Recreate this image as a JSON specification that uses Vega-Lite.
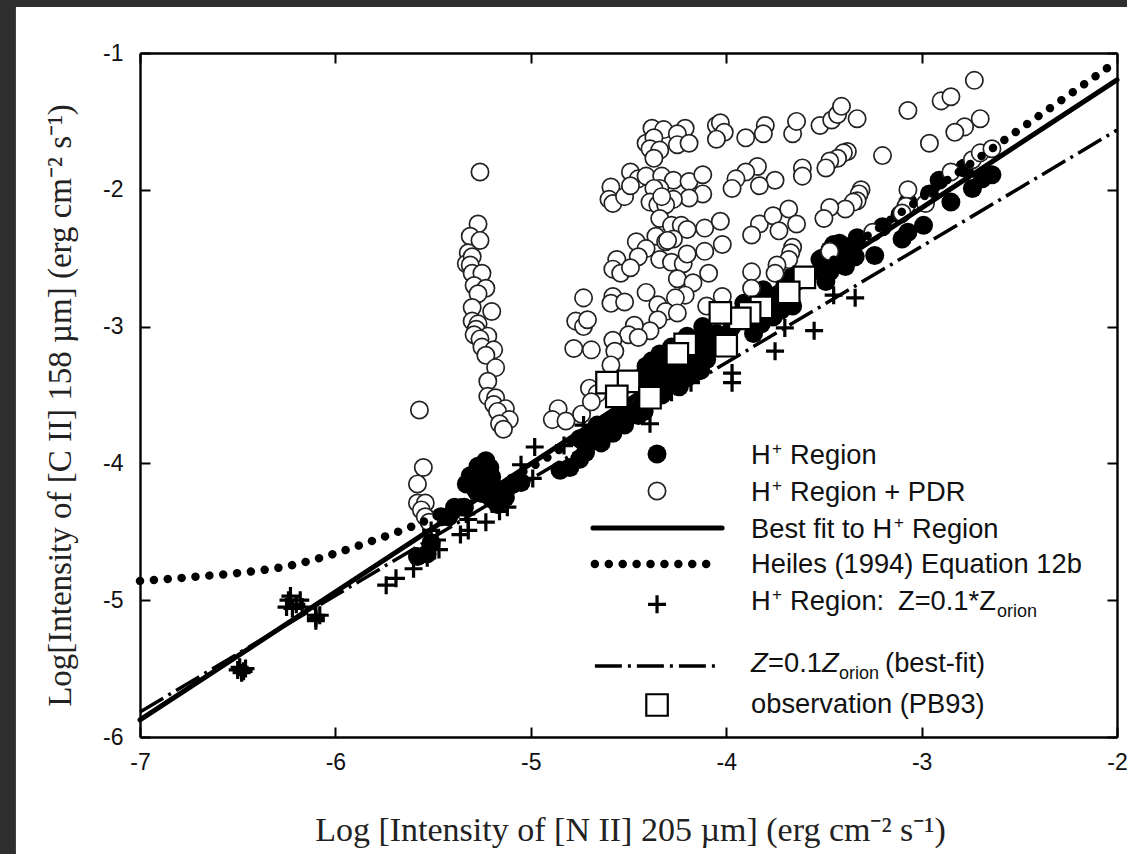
{"$schema":"https://vega.github.io/schema/vega-lite/v6.json","width":977,"height":684,"autosize":{"type":"none"},"padding":{"left":140,"top":53,"right":10,"bottom":117},"background":"#2f2f2f","config":{"view":{"stroke":null}},
"datasets":{
"panel":[{"x0":-7.635,"x1":-1.9,"y0":-0.664,"y1":-6.9}],
"filled":[{"x":-5.23,"y":-3.98},{"x":-5.27,"y":-4.02},{"x":-5.21,"y":-4.03},{"x":-5.31,"y":-4.09},{"x":-5.33,"y":-4.15},{"x":-5.29,"y":-4.12},{"x":-5.25,"y":-4.1},{"x":-5.2,"y":-4.1},{"x":-5.28,"y":-4.2},{"x":-5.25,"y":-4.22},{"x":-5.22,"y":-4.17},{"x":-5.18,"y":-4.2},{"x":-5.2,"y":-4.26},{"x":-5.15,"y":-4.22},{"x":-5.12,"y":-4.18},{"x":-5.17,"y":-4.3},{"x":-5.13,"y":-4.25},{"x":-5.09,"y":-4.15},{"x":-5.05,"y":-4.14},{"x":-5.58,"y":-4.68},{"x":-5.53,"y":-4.66},{"x":-5.51,"y":-4.58},{"x":-5.46,"y":-4.39},{"x":-5.42,"y":-4.39},{"x":-5.39,"y":-4.32},{"x":-5.34,"y":-4.32},{"x":-5.52,"y":-4.41},{"x":-4.85,"y":-4.05},{"x":-4.8,"y":-4.03},{"x":-4.75,"y":-3.97},{"x":-4.72,"y":-3.92},{"x":-4.7,"y":-3.85},{"x":-4.75,"y":-3.82},{"x":-4.68,"y":-3.8},{"x":-4.63,"y":-3.75},{"x":-4.66,"y":-3.72},{"x":-4.6,"y":-3.7},{"x":-4.57,"y":-3.68},{"x":-4.53,"y":-3.65},{"x":-4.5,"y":-3.6},{"x":-4.47,"y":-3.62},{"x":-4.44,"y":-3.58},{"x":-4.41,"y":-3.5},{"x":-4.38,"y":-3.45},{"x":-4.35,"y":-3.38},{"x":-4.4,"y":-3.42},{"x":-4.37,"y":-3.3},{"x":-4.32,"y":-3.3},{"x":-4.3,"y":-3.42},{"x":-4.27,"y":-3.4},{"x":-4.33,"y":-3.5},{"x":-4.25,"y":-3.3},{"x":-4.22,"y":-3.32},{"x":-4.41,"y":-3.29},{"x":-4.34,"y":-3.2},{"x":-4.2,"y":-3.07},{"x":-4.12,"y":-3},{"x":-4.1,"y":-3.24},{"x":-4.13,"y":-3.32},{"x":-4.24,"y":-3.44},{"x":-4.34,"y":-3.49},{"x":-4.17,"y":-3.15},{"x":-4.05,"y":-3.05},{"x":-3.91,"y":-2.83},{"x":-3.81,"y":-2.73},{"x":-3.86,"y":-3.05},{"x":-3.76,"y":-2.93},{"x":-3.66,"y":-2.85},{"x":-3.66,"y":-2.63},{"x":-3.73,"y":-2.76},{"x":-3.83,"y":-2.88},{"x":-3.88,"y":-2.95},{"x":-3.49,"y":-2.67},{"x":-3.52,"y":-2.51},{"x":-3.42,"y":-2.39},{"x":-3.33,"y":-2.35},{"x":-3.39,"y":-2.56},{"x":-3.34,"y":-2.49},{"x":-3.24,"y":-2.48},{"x":-3.47,"y":-2.44},{"x":-3.38,"y":-2.46},{"x":-3.43,"y":-2.51},{"x":-3.2,"y":-2.27},{"x":-3.11,"y":-2.18},{"x":-3.07,"y":-2.09},{"x":-2.96,"y":-2.03},{"x":-2.91,"y":-1.93},{"x":-2.78,"y":-1.84},{"x":-2.85,"y":-2.09},{"x":-2.74,"y":-1.99},{"x":-2.69,"y":-1.92},{"x":-2.64,"y":-1.89},{"x":-3.1,"y":-2.36},{"x":-3.07,"y":-2.31},{"x":-2.99,"y":-2.26},{"x":-3.51,"y":-2.5},{"x":-4.42,"y":-3.35},{"x":-4.38,"y":-3.25},{"x":-4.3,"y":-3.25},{"x":-4.28,"y":-3.15},{"x":-4.22,"y":-3.15},{"x":-4.18,"y":-3.25},{"x":-4.25,"y":-3.22},{"x":-4.15,"y":-3.1},{"x":-4.1,"y":-3.1},{"x":-4.05,"y":-3.15},{"x":-4.2,"y":-3.37},{"x":-3.97,"y":-3},{"x":-3.95,"y":-2.92},{"x":-3.9,"y":-2.95},{"x":-3.82,"y":-2.98},{"x":-3.78,"y":-2.8},{"x":-3.72,"y":-2.88},{"x":-3.7,"y":-2.7},{"x":-3.4,"y":-2.47},{"x":-3.45,"y":-2.4},{"x":-3.36,"y":-2.41},{"x":-3.5,"y":-2.6},{"x":-3.47,"y":-2.6},{"x":-4.64,"y":-3.85},{"x":-4.58,"y":-3.78},{"x":-4.52,"y":-3.72},{"x":-4.45,"y":-3.65},{"x":-4.42,"y":-3.62},{"x":-4.354,"y":-3.931}],
"open":[{"x":-4.38,"y":-1.55},{"x":-4.32,"y":-1.56},{"x":-4.21,"y":-1.55},{"x":-4.41,"y":-1.66},{"x":-4.37,"y":-1.62},{"x":-4.39,"y":-1.7},{"x":-4.34,"y":-1.71},{"x":-4.37,"y":-1.77},{"x":-4.25,"y":-1.59},{"x":-4.25,"y":-1.67},{"x":-4.19,"y":-1.66},{"x":-4.05,"y":-1.53},{"x":-4.03,"y":-1.51},{"x":-4.01,"y":-1.58},{"x":-4.05,"y":-1.63},{"x":-3.9,"y":-1.62},{"x":-3.8,"y":-1.53},{"x":-3.81,"y":-1.59},{"x":-3.66,"y":-1.59},{"x":-3.64,"y":-1.5},{"x":-3.52,"y":-1.53},{"x":-3.46,"y":-1.49},{"x":-3.43,"y":-1.45},{"x":-3.41,"y":-1.39},{"x":-3.33,"y":-1.48},{"x":-3.07,"y":-1.42},{"x":-2.9,"y":-1.35},{"x":-2.85,"y":-1.32},{"x":-2.73,"y":-1.2},{"x":-2.7,"y":-1.48},{"x":-2.78,"y":-1.54},{"x":-2.83,"y":-1.58},{"x":-2.96,"y":-1.66},{"x":-3.2,"y":-1.75},{"x":-3.38,"y":-1.72},{"x":-3.4,"y":-1.73},{"x":-3.43,"y":-1.77},{"x":-3.47,"y":-1.79},{"x":-3.49,"y":-1.84},{"x":-3.31,"y":-2},{"x":-3.32,"y":-2.03},{"x":-3.33,"y":-2.08},{"x":-3.35,"y":-2.09},{"x":-3.39,"y":-2.14},{"x":-3.47,"y":-2.13},{"x":-3.5,"y":-2.21},{"x":-3.07,"y":-2},{"x":-3.08,"y":-2.12},{"x":-2.98,"y":-2.1},{"x":-2.85,"y":-1.87},{"x":-2.74,"y":-1.78},{"x":-2.7,"y":-1.73},{"x":-2.64,"y":-1.7},{"x":-3.1,"y":-2.17},{"x":-3.25,"y":-2.31},{"x":-3.47,"y":-2.45},{"x":-3.61,"y":-1.84},{"x":-3.61,"y":-1.9},{"x":-3.75,"y":-1.93},{"x":-3.83,"y":-1.97},{"x":-3.84,"y":-1.83},{"x":-3.9,"y":-1.87},{"x":-3.95,"y":-1.92},{"x":-3.97,"y":-1.99},{"x":-4.49,"y":-1.87},{"x":-4.45,"y":-1.92},{"x":-4.59,"y":-1.98},{"x":-4.6,"y":-2.07},{"x":-4.58,"y":-2.1},{"x":-4.52,"y":-2.05},{"x":-4.49,"y":-1.97},{"x":-4.41,"y":-1.9},{"x":-4.33,"y":-1.9},{"x":-4.27,"y":-1.93},{"x":-4.19,"y":-1.94},{"x":-4.12,"y":-1.89},{"x":-4.12,"y":-2.03},{"x":-4.19,"y":-2.06},{"x":-4.34,"y":-1.99},{"x":-4.37,"y":-1.99},{"x":-4.27,"y":-2.07},{"x":-4.39,"y":-2.09},{"x":-4.35,"y":-2.11},{"x":-4.31,"y":-2.11},{"x":-4.33,"y":-2.05},{"x":-4.34,"y":-2.21},{"x":-4.28,"y":-2.26},{"x":-4.23,"y":-2.26},{"x":-4.2,"y":-2.29},{"x":-4.11,"y":-2.28},{"x":-4.03,"y":-2.23},{"x":-4.02,"y":-2.4},{"x":-4.11,"y":-2.45},{"x":-3.83,"y":-2.25},{"x":-3.87,"y":-2.33},{"x":-3.76,"y":-2.19},{"x":-3.68,"y":-2.14},{"x":-3.73,"y":-2.3},{"x":-3.64,"y":-2.25},{"x":-4.36,"y":-2.34},{"x":-4.31,"y":-2.38},{"x":-4.27,"y":-2.36},{"x":-4.3,"y":-2.37},{"x":-4.46,"y":-2.38},{"x":-4.41,"y":-2.43},{"x":-4.45,"y":-2.49},{"x":-4.56,"y":-2.51},{"x":-4.58,"y":-2.58},{"x":-4.54,"y":-2.61},{"x":-4.49,"y":-2.57},{"x":-4.34,"y":-2.51},{"x":-4.28,"y":-2.53},{"x":-4.22,"y":-2.54},{"x":-4.2,"y":-2.47},{"x":-4.09,"y":-2.61},{"x":-4.25,"y":-2.65},{"x":-4.17,"y":-2.68},{"x":-4.21,"y":-2.77},{"x":-4.26,"y":-2.79},{"x":-3.66,"y":-2.42},{"x":-3.67,"y":-2.46},{"x":-3.68,"y":-2.51},{"x":-3.74,"y":-2.55},{"x":-3.75,"y":-2.61},{"x":-3.87,"y":-2.6},{"x":-3.87,"y":-2.72},{"x":-4.41,"y":-2.75},{"x":-4.58,"y":-2.78},{"x":-4.59,"y":-2.83},{"x":-4.52,"y":-2.82},{"x":-4.35,"y":-2.84},{"x":-4.31,"y":-2.89},{"x":-4.25,"y":-2.9},{"x":-4.35,"y":-2.95},{"x":-4.39,"y":-3.03},{"x":-4.47,"y":-2.99},{"x":-4.5,"y":-3.06},{"x":-4.45,"y":-3.08},{"x":-4.73,"y":-2.79},{"x":-4.77,"y":-2.96},{"x":-4.73,"y":-3},{"x":-4.71,"y":-2.95},{"x":-4.78,"y":-3.16},{"x":-4.69,"y":-3.17},{"x":-4.58,"y":-3.1},{"x":-4.57,"y":-3.18},{"x":-4.59,"y":-3.28},{"x":-4.02,"y":-2.78},{"x":-4.1,"y":-2.85},{"x":-4.7,"y":-3.45},{"x":-4.66,"y":-3.49},{"x":-5.26,"y":-1.87},{"x":-5.27,"y":-2.25},{"x":-5.31,"y":-2.34},{"x":-5.26,"y":-2.37},{"x":-5.32,"y":-2.46},{"x":-5.33,"y":-2.54},{"x":-5.3,"y":-2.49},{"x":-5.31,"y":-2.55},{"x":-5.3,"y":-2.61},{"x":-5.25,"y":-2.61},{"x":-5.29,"y":-2.7},{"x":-5.23,"y":-2.72},{"x":-5.27,"y":-2.76},{"x":-5.3,"y":-2.86},{"x":-5.2,"y":-2.89},{"x":-5.3,"y":-2.96},{"x":-5.27,"y":-2.98},{"x":-5.28,"y":-3.02},{"x":-5.29,"y":-3.06},{"x":-5.22,"y":-3.07},{"x":-5.26,"y":-3.09},{"x":-5.25,"y":-3.15},{"x":-5.19,"y":-3.17},{"x":-5.23,"y":-3.21},{"x":-5.18,"y":-3.3},{"x":-5.22,"y":-3.4},{"x":-5.22,"y":-3.51},{"x":-5.18,"y":-3.52},{"x":-5.19,"y":-3.57},{"x":-5.13,"y":-3.6},{"x":-5.17,"y":-3.62},{"x":-5.11,"y":-3.68},{"x":-5.16,"y":-3.71},{"x":-5.14,"y":-3.75},{"x":-5.57,"y":-3.61},{"x":-4.86,"y":-3.6},{"x":-4.89,"y":-3.68},{"x":-4.82,"y":-3.69},{"x":-4.74,"y":-3.64},{"x":-4.69,"y":-3.55},{"x":-5.55,"y":-4.03},{"x":-5.58,"y":-4.15},{"x":-5.58,"y":-4.29},{"x":-5.54,"y":-4.29},{"x":-5.56,"y":-4.34},{"x":-5.54,"y":-4.39},{"x":-5.52,"y":-4.43},{"x":-4.354,"y":-4.202}],
"plus":[{"x":-6.49,"y":-5.49},{"x":-6.47,"y":-5.52},{"x":-6.48,"y":-5.53},{"x":-6.46,"y":-5.5},{"x":-6.5,"y":-5.51},{"x":-6.24,"y":-5},{"x":-6.18,"y":-5},{"x":-6.25,"y":-5.05},{"x":-6.2,"y":-5.03},{"x":-6.22,"y":-5.06},{"x":-6.17,"y":-5.05},{"x":-6.23,"y":-4.97},{"x":-6.1,"y":-5.13},{"x":-6.1,"y":-5.11},{"x":-6.08,"y":-5.11},{"x":-6.1,"y":-5.15},{"x":-5.74,"y":-4.89},{"x":-5.69,"y":-4.84},{"x":-5.6,"y":-4.77},{"x":-5.53,"y":-4.69},{"x":-5.48,"y":-4.56},{"x":-5.47,"y":-4.63},{"x":-5.36,"y":-4.52},{"x":-5.32,"y":-4.49},{"x":-5.23,"y":-4.43},{"x":-5.32,"y":-4.41},{"x":-5.36,"y":-4.32},{"x":-5.33,"y":-4.37},{"x":-5.12,"y":-4.32},{"x":-5.16,"y":-4.35},{"x":-4.99,"y":-4.11},{"x":-5.05,"y":-4.01},{"x":-4.98,"y":-3.88},{"x":-4.83,"y":-3.87},{"x":-4.73,"y":-3.72},{"x":-4.39,"y":-3.71},{"x":-5.51,"y":-4.49},{"x":-5.41,"y":-4.39},{"x":-3.34,"y":-2.79},{"x":-3.55,"y":-3.03},{"x":-3.75,"y":-3.18},{"x":-3.7,"y":-3.01},{"x":-3.97,"y":-3.34},{"x":-3.97,"y":-3.41},{"x":-4.18,"y":-3.41},{"x":-3.45,"y":-2.77},{"x":-4.28,"y":-3.48},{"x":-4.6,"y":-3.72},{"x":-4.354,"y":-5.03}],
"square":[{"x":-3.6,"y":-2.64},{"x":-3.68,"y":-2.75},{"x":-3.82,"y":-2.86},{"x":-3.88,"y":-2.9},{"x":-3.93,"y":-2.94},{"x":-4.03,"y":-2.9},{"x":-4.21,"y":-3.13},{"x":-4,"y":-3.14},{"x":-4.25,"y":-3.2},{"x":-4.5,"y":-3.4},{"x":-4.61,"y":-3.41},{"x":-4.56,"y":-3.51},{"x":-4.39,"y":-3.52},{"x":-4.354,"y":-5.766}],
"best":[{"part":"fit","x":-7,"y":-5.875},{"part":"fit","x":-2,"y":-1.197},{"part":"key","x":-4.682,"y":-4.472},{"part":"key","x":-4.021,"y":-4.472}],
"heiles":[{"part":"fit","x":-7,"y":-4.86},{"part":"fit","x":-6.667,"y":-4.823},{"part":"fit","x":-6.452,"y":-4.794},{"part":"fit","x":-6.243,"y":-4.75},{"part":"fit","x":-6.028,"y":-4.67},{"part":"fit","x":-5.813,"y":-4.567},{"part":"fit","x":-5.603,"y":-4.458},{"part":"fit","x":-5.4,"y":-4.33},{"part":"fit","x":-5.2,"y":-4.18},{"part":"fit","x":-5,"y":-4.03},{"part":"fit","x":-4.5,"y":-3.55},{"part":"fit","x":-4,"y":-3.06},{"part":"fit","x":-3.5,"y":-2.56},{"part":"fit","x":-3,"y":-2.06},{"part":"fit","x":-2.5,"y":-1.56},{"part":"fit","x":-2,"y":-1.06},{"part":"key","x":-4.672,"y":-4.735},{"part":"key","x":-4.05,"y":-4.735}],
"dashdot":[{"part":"fit","x":-7,"y":-5.817},{"part":"fit","x":-2,"y":-1.563},{"part":"key","x":-4.672,"y":-5.481},{"part":"key","x":-4.05,"y":-5.481}],
"labels":[{"x":-3.873,"y":-4.004,"t":"H"},{"x":-3.673,"y":-4.004,"t":"Region"},{"x":-3.873,"y":-4.275,"t":"H"},{"x":-3.673,"y":-4.275,"t":"Region + PDR"},{"x":-3.873,"y":-4.545,"t":"Best fit to H"},{"x":-3.049,"y":-4.545,"t":"Region"},{"x":-3.873,"y":-4.801,"t":"Heiles (1994) Equation 12b"},{"x":-3.873,"y":-5.072,"t":"H"},{"x":-3.673,"y":-5.072,"t":"Region:"},{"x":-3.121,"y":-5.072,"t":"Z=0.1*Z"},{"x":-3.786,"y":-5.525,"t":"=0.1"},{"x":-3.187,"y":-5.525,"t":"(best-fit)"},{"x":-3.873,"y":-5.825,"t":"observation (PB93)"}],
"sups":[{"x":-3.766,"y":-4.004,"t":"+"},{"x":-3.766,"y":-4.275,"t":"+"},{"x":-3.141,"y":-4.545,"t":"+"},{"x":-3.766,"y":-5.072,"t":"+"}],
"subs":[{"x":-2.614,"y":-5.072,"t":"orion"},{"x":-3.423,"y":-5.525,"t":"orion"}],
"ital":[{"x":-3.873,"y":-5.525,"t":"Z"},{"x":-3.51,"y":-5.525,"t":"Z"}]
},
"encoding":{"x":{"field":"x","type":"quantitative","scale":{"domain":[-7,-2],"nice":false,"zero":false},"axis":null},"y":{"field":"y","type":"quantitative","scale":{"domain":[-6,-1],"nice":false,"zero":false},"axis":null}},
"resolve":{"axis":{"x":"independent","y":"independent"}},
"layer":[
{"data":{"name":"panel"},"mark":{"type":"rect","fill":"white"},"encoding":{"x":{"field":"x0","type":"quantitative","scale":{"domain":[-7,-2],"nice":false,"zero":false},"axis":{"orient":"bottom","values":[-7,-6,-5,-4,-3,-2],"labelExpr":"datum.value + ''","grid":false,"zindex":1,"domainColor":"black","domainWidth":2.4,"tickColor":"black","tickWidth":2,"tickSize":-10,"labelPadding":24,"labelFont":"Liberation Sans","labelFontSize":23,"labelColor":"#111","labelOverlap":false,"labelBound":false,"labelFlush":false,"title":"Log [Intensity of [N II] 205 µm] (erg cm⁻² s⁻¹)","titleFont":"Liberation Serif","titleFontSize":34,"titleFontWeight":"normal","titleColor":"#222","titleX":490,"titleY":103,"titleBaseline":"alphabetic"}},"x2":{"field":"x1"},"y":{"field":"y0","type":"quantitative","scale":{"domain":[-6,-1],"nice":false,"zero":false},"axis":{"orient":"left","values":[-6,-5,-4,-3,-2,-1],"labelExpr":"datum.value + ''","grid":false,"zindex":1,"domainColor":"black","domainWidth":2.4,"tickColor":"black","tickWidth":2,"tickSize":-10,"labelPadding":27,"labelFont":"Liberation Sans","labelFontSize":23,"labelColor":"#111","labelOverlap":false,"labelBound":false,"title":"Log[Intensity of [C II] 158 µm] (erg cm⁻² s⁻¹)","titleFont":"Liberation Serif","titleFontSize":33,"titleFontWeight":"normal","titleColor":"#222","titleX":-70,"titleY":352,"titleBaseline":"alphabetic"}},"y2":{"field":"y1"}}},
{"data":{"name":"filled"},"mark":{"type":"circle","color":"black","opacity":1,"size":361}},
{"data":{"name":"open"},"mark":{"type":"circle","fill":"white","stroke":"#222","strokeWidth":1.7,"opacity":1,"size":300}},
{"data":{"name":"best"},"mark":{"type":"line","color":"black","strokeWidth":5,"strokeCap":"round"},"encoding":{"detail":{"field":"part"},"x":{"field":"x","type":"quantitative","scale":{"domain":[-7,-2],"nice":false,"zero":false},"axis":{"orient":"top","values":[-7,-6,-5,-4,-3,-2],"labels":false,"title":null,"grid":false,"zindex":1,"domainColor":"black","domainWidth":2.4,"tickColor":"black","tickWidth":2,"tickSize":-10}},"y":{"field":"y","type":"quantitative","scale":{"domain":[-6,-1],"nice":false,"zero":false},"axis":{"orient":"right","values":[-6,-5,-4,-3,-2,-1],"labels":false,"title":null,"grid":false,"zindex":1,"domainColor":"black","domainWidth":2.4,"tickColor":"black","tickWidth":2,"tickSize":-10}}}},
{"data":{"name":"heiles"},"mark":{"type":"line","color":"black","strokeWidth":8.5,"strokeCap":"round","strokeDash":[0.01,13.9],"interpolate":"monotone"},"encoding":{"detail":{"field":"part"}}},
{"data":{"name":"plus"},"mark":{"type":"point","shape":"M-1,0H1M0,-1V1","filled":false,"stroke":"black","strokeWidth":3.2,"opacity":1,"size":324}},
{"data":{"name":"dashdot"},"mark":{"type":"line","color":"black","strokeWidth":3.5,"strokeDash":[27,6,3,6]},"encoding":{"detail":{"field":"part"}}},
{"data":{"name":"square"},"mark":{"type":"point","shape":"square","filled":true,"fill":"white","stroke":"black","strokeWidth":2.2,"opacity":1,"size":462}},
{"data":{"name":"labels"},"mark":{"type":"text","align":"left","baseline":"alphabetic","font":"Liberation Sans","fontSize":27.3,"color":"#111"},"encoding":{"text":{"field":"t"}}},
{"data":{"name":"ital"},"mark":{"type":"text","align":"left","baseline":"alphabetic","font":"Liberation Sans","fontStyle":"italic","fontSize":27.3,"color":"#111"},"encoding":{"text":{"field":"t"}}},
{"data":{"name":"sups"},"mark":{"type":"text","align":"left","baseline":"alphabetic","font":"Liberation Sans","fontSize":17,"dy":-10,"color":"#111"},"encoding":{"text":{"field":"t"}}},
{"data":{"name":"subs"},"mark":{"type":"text","align":"left","baseline":"alphabetic","font":"Liberation Sans","fontSize":18,"dy":7,"color":"#111"},"encoding":{"text":{"field":"t"}}}
]}
